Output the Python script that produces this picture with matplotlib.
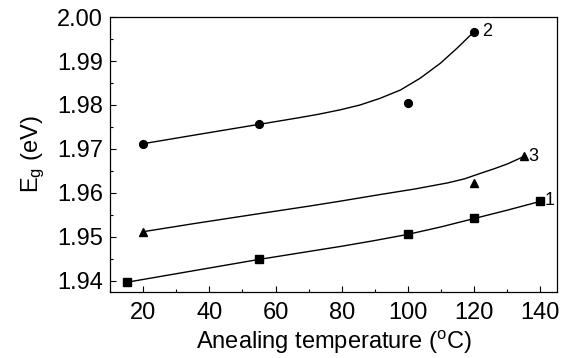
import matplotlib
matplotlib.use("Agg")
import matplotlib.pyplot as plt
from matplotlib.ticker import MultipleLocator

# measured points
x1 = [15, 55, 100, 120, 140]
y1 = [1.9397, 1.9449, 1.9506, 1.9543, 1.9581]
x2 = [20, 55, 100, 120]
y2 = [1.9712, 1.9756, 1.9805, 1.9967]
x3 = [20, 120, 135]
y3 = [1.9512, 1.9622, 1.9683]

# fitted curves
fit1_x = [15, 25, 35, 45, 55, 65, 80, 90, 100, 110, 120, 130, 140]
fit1_y = [1.9397, 1.9410, 1.9423, 1.9436, 1.9449, 1.9461, 1.9479, 1.9492, 1.9506,
          1.9523, 1.9542, 1.9561, 1.9581]
fit2_x = [20, 35, 55, 67, 73, 79.5, 85.5, 91.5, 97.7, 103.7, 109.8, 114.8, 120]
fit2_y = [1.9712, 1.9731, 1.9756, 1.9771, 1.9779, 1.9789, 1.9800, 1.9815, 1.9834,
          1.9861, 1.9895, 1.9929, 1.9967]
fit3_x = [20, 35, 55, 70, 80, 92, 102, 112, 117, 122, 126, 130, 135]
fit3_y = [1.9512, 1.9530, 1.9553, 1.9570, 1.9582, 1.9597, 1.9609, 1.9623, 1.9632,
          1.9645, 1.9655, 1.9666, 1.9683]

curve_labels = ["1", "2", "3"]
label_pos = [(141.2, 1.9582), (122.5, 1.9966), (136.2, 1.9682)]

plt.rcParams.update(
    {
        "font.family": "Liberation Sans",
        "font.size": 17,
        "mathtext.fontset": "custom",
        "mathtext.rm": "Liberation Sans",
        "mathtext.it": "Liberation Sans:italic",
        "xtick.direction": "in",
        "ytick.direction": "in",
    }
)

fig = plt.figure(figsize=(5.68, 3.58), dpi=100)
ax = fig.add_axes([0.1937, 0.1844, 0.7869, 0.7681])

ax.plot(fit1_x, fit1_y, color="black", lw=1.0)
ax.plot(fit2_x, fit2_y, color="black", lw=1.0)
ax.plot(fit3_x, fit3_y, color="black", lw=1.0)
ax.plot(x1, y1, "s", color="black", ms=5.4, ls="none")
ax.plot(x2, y2, "o", color="black", ms=5.6, ls="none")
ax.plot(x3, y3, "^", color="black", ms=5.6, ls="none")

for lab, (tx, ty) in zip(curve_labels, label_pos):
    ax.text(tx, ty, lab, fontsize=13, ha="left", va="center")

ax.set_xlim(10, 145)
ax.set_ylim(1.9375, 2.0)
ax.xaxis.set_major_locator(MultipleLocator(20))
ax.xaxis.set_minor_locator(MultipleLocator(10))
ax.yaxis.set_major_locator(MultipleLocator(0.01))
ax.yaxis.set_minor_locator(MultipleLocator(0.005))
ax.yaxis.set_major_formatter(plt.FormatStrFormatter("%.2f"))
ax.tick_params(which="major", length=4, width=0.8, labelsize=17)
ax.tick_params(axis="y", which="major", pad=5)
ax.tick_params(axis="x", which="major", pad=7)
ax.tick_params(which="minor", length=2.5, width=0.8)
for s in ax.spines.values():
    s.set_linewidth(0.9)

ax.set_xlabel(r"Anealing temperature ($^\mathrm{o}$C)", fontsize=17, labelpad=4)
ax.set_ylabel(r"E$_\mathrm{g}$ (eV)", fontsize=17, labelpad=7)

fig.savefig("out.png", dpi=100)
